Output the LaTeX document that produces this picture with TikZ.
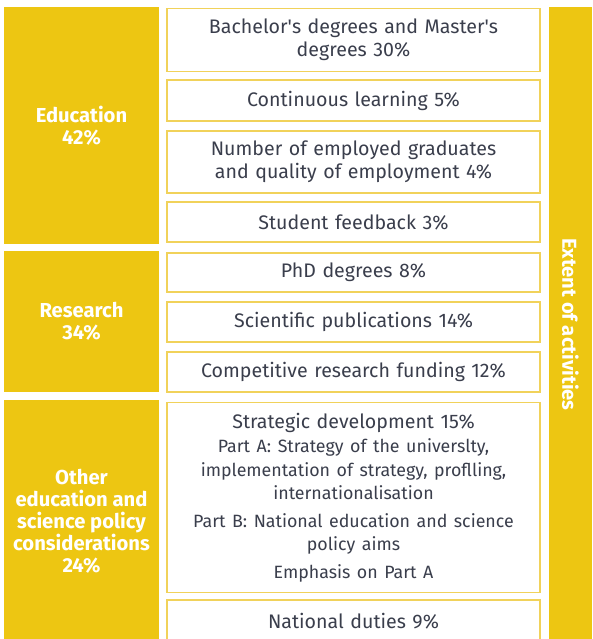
\documentclass[tikz,border=0pt]{standalone}
\usepackage{fontspec}
\setmainfont{Fira Sans}
\definecolor{ybar}{RGB}{237,198,18}
\definecolor{yline}{RGB}{241,210,90}
\definecolor{ink}{RGB}{58,62,76}
\begin{document}
\begin{tikzpicture}[x=1pt,y=-1pt,
  catfont/.style={font=\fontsize{20.2}{22}\selectfont\bfseries},
  cat/.style={fill=ybar,draw=none,text=white,align=center,inner sep=0pt,catfont},
  item/.style={fill=white,draw=yline,line width=1.2pt,text=ink,align=center,
    inner sep=0pt,minimum width=373pt,text width=370pt,
    font=\fontsize{19.6}{23}\selectfont}]
\useasboundingbox (0,0) rectangle (592,639);
% categories
\node[cat,minimum width=155pt,minimum height=237pt] (edu) at (81.5,125.5) {Education\\42\%};
\node[cat,minimum width=155pt,minimum height=141pt] (res) at (81.5,321.5) {Research\\34\%};
\node[cat,minimum width=155pt,minimum height=242pt] (oth) at (81.5,521) {Other\\education and\\science policy\\considerations\\24\%};
\node[cat,minimum width=43pt,minimum height=635pt] (ext) at (570.5,324.5) {};
\node[rotate=-90,text=white,catfont,inner sep=0pt] (extlbl) at (ext.center) {Extent of activities};
% items
\node[item,minimum height=63pt] (b1) at (353.5,40) {Bachelor\textquotesingle s degrees and Master\textquotesingle s\\degrees 30\%};
\node[item,minimum height=41pt] (b2) at (353.5,100.5) {Continuous learning 5\%};
\node[item,minimum height=62pt] (b3) at (353.5,162) {Number of employed graduates\\and quality of employment 4\%};
\node[item,minimum height=40pt] (b4) at (353.5,222) {Student feedback 3\%};
\node[item,minimum height=39pt] (b5) at (353.5,272.5) {PhD degrees 8\%};
\node[item,minimum height=40pt] (b6) at (353.5,322) {Scientific publications 14\%};
\node[item,minimum height=40pt] (b7) at (353.5,372) {Competitive research funding 12\%};
\node[item,minimum height=190pt] (b8) at (353.5,497.5) {Strategic development 15\%\par\vspace{1pt}
  {\fontsize{17.8}{23.5}\selectfont Part A: Strategy of the universlty,\\implementation of strategy, proflling,\\internationalisation\par\vspace{4pt}
  Part B: National education and science\\policy aims\par\vspace{4pt}
  Emphasis on Part A\par}};
\node[item,minimum height=42pt] (b9) at (353.5,621) {National duties 9\%};
\end{tikzpicture}
\end{document}
